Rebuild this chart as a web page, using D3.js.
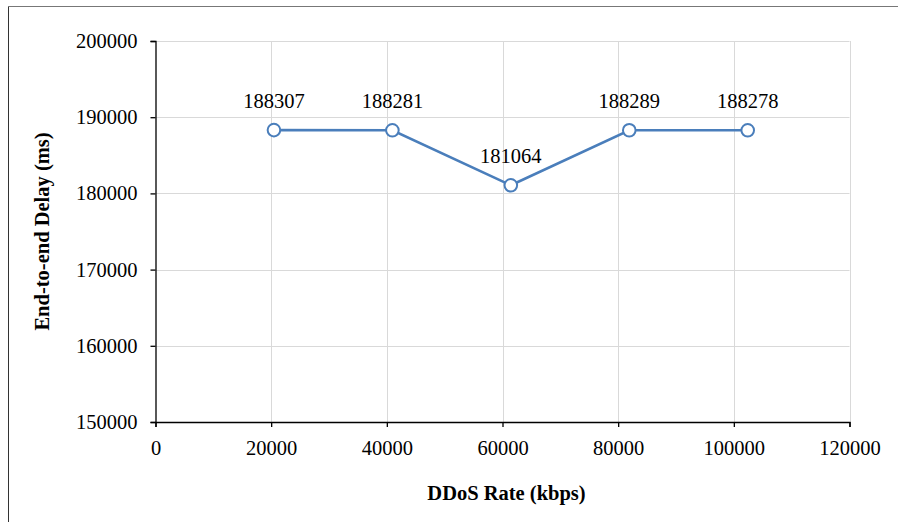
<!DOCTYPE html>
<html>
<head>
<meta charset="utf-8">
<script src="https://cdn.jsdelivr.net/npm/d3@7"></script>
<style>
  html, body { margin: 0; padding: 0; background: #fff; }
  svg { display: block; }
  text { font-family: "Liberation Serif", "Times New Roman", serif; fill: #000; }
</style>
</head>
<body>
<svg id="chart" width="898" height="522"></svg>
<script>
// DDoS attack rate (kbps) and measured end-to-end delay (ms)
const ddosRates = [20480, 40960, 61440, 81920, 102400];
const delays = [188307, 188281, 181064, 188289, 188278];
const xTicks = [0, 20000, 40000, 60000, 80000, 100000, 120000];
const yTicks = [150000, 160000, 170000, 180000, 190000, 200000];
const xTitle = "DDoS Rate (kbps)";
const yTitle = "End-to-end Delay (ms)";

const FONT = "'Liberation Serif', 'Times New Roman', serif";
const FS = 20.5;

const svg = d3.select("#chart");
const W = 898, H = 522;
const m = { left: 155.5, right: 849.5, top: 41, bottom: 422 };

// outer frame: left and top edges
svg.append("line").attr("x1", 8.5).attr("x2", 8.5).attr("y1", 6).attr("y2", H)
  .attr("stroke", "#333").attr("stroke-width", 1);
svg.append("line").attr("x1", 8).attr("x2", W).attr("y1", 6.5).attr("y2", 6.5)
  .attr("stroke", "#777").attr("stroke-width", 1);

const x = d3.scaleLinear().domain([0, 120000]).range([m.left, m.right]);
const y = d3.scaleLinear().domain([150000, 200000]).range([m.bottom, m.top]);

// gridlines
const grid = svg.append("g").attr("stroke", "#d9d9d9").attr("stroke-width", 1);
grid.selectAll(".gx").data(xTicks.slice(1)).join("line")
  .attr("x1", d => Math.round(x(d)) + 0.5).attr("x2", d => Math.round(x(d)) + 0.5)
  .attr("y1", m.top).attr("y2", m.bottom);
grid.selectAll(".gy").data(yTicks.slice(1)).join("line")
  .attr("x1", m.left).attr("x2", m.right)
  .attr("y1", d => Math.round(y(d)) + 0.5).attr("y2", d => Math.round(y(d)) + 0.5);

// axes
const xAxis = svg.append("g").attr("transform", `translate(0,${m.bottom})`)
  .call(d3.axisBottom(x).tickValues(xTicks).tickFormat(d3.format("d")).tickSizeOuter(0).tickSize(5).tickPadding(13));
const yAxis = svg.append("g").attr("transform", `translate(${m.left},0)`)
  .call(d3.axisLeft(y).tickValues(yTicks).tickFormat(d3.format("d")).tickSizeOuter(0).tickSize(5).tickPadding(13));
[xAxis, yAxis].forEach(a => {
  a.attr("font-family", FONT).attr("font-size", FS);
  a.select(".domain").attr("stroke", "#000").attr("stroke-width", 1.3);
  a.selectAll(".tick line").attr("stroke", "#000").attr("stroke-width", 1.3);
  a.selectAll(".tick text").attr("fill", "#000");
});

// series line
const pts = ddosRates.map((r, i) => ({ r, v: delays[i] }));
svg.append("path").datum(pts)
  .attr("fill", "none").attr("stroke", "#4a7ebb").attr("stroke-width", 2.6)
  .attr("d", d3.line().x(d => x(d.r)).y(d => y(d.v)));

// markers
svg.selectAll(".pt").data(pts).join("circle")
  .attr("cx", d => x(d.r)).attr("cy", d => y(d.v)).attr("r", 6.3)
  .attr("fill", "#fff").attr("stroke", "#4a7ebb").attr("stroke-width", 2);

// value labels
svg.selectAll(".lbl").data(pts).join("text")
  .attr("x", d => x(d.r)).attr("y", d => y(d.v) - 22)
  .attr("text-anchor", "middle").attr("font-size", FS).attr("font-family", FONT)
  .text(d => d.v);

// axis titles
svg.append("text").attr("x", (m.left + m.right) / 2 + 4).attr("y", 500)
  .attr("text-anchor", "middle").attr("font-size", FS).attr("font-weight", "bold").attr("font-family", FONT)
  .text(xTitle);
svg.append("text").attr("transform", `translate(49,${(m.top + m.bottom) / 2}) rotate(-90)`)
  .attr("text-anchor", "middle").attr("font-size", FS).attr("font-weight", "bold").attr("font-family", FONT)
  .text(yTitle);
</script>
</body>
</html>
